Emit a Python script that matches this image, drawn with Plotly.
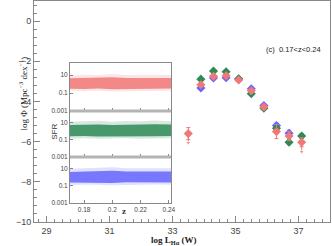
import plotly.graph_objects as go

# ---------------- main LF data ----------------
logL = [33.5, 33.9, 34.3, 34.7, 35.1, 35.5, 35.9, 36.3, 36.7, 37.1]
phi_red = [-5.6, -3.17, -2.75, -2.72, -2.93, -3.47, -4.27, -5.5, -5.72, -6.03]
err_red = [0.3, 0.06, 0.06, 0.06, 0.06, 0.06, 0.08, 0.35, 0.22, 0.22]
phi_green = [None, -2.89, -2.49, -2.52, -2.87, -3.62, -4.34, -5.33, -6.03, -5.72]
err_green = [0, 0.06, 0.06, 0.06, 0.06, 0.06, 0.08, 0.1, 0.12, 0.12]
phi_blue = [None, -3.33, -2.83, -2.82, -2.9, -3.37, -4.2, -5.2, -5.58, None]
err_blue = [0, 0.06, 0.06, 0.06, 0.06, 0.06, 0.08, 0.12, 0.15, 0]
# upper-limit arrows (red series)
lim_L = [33.5, 37.1]
lim_top = [-5.6, -6.03]
lim_bot = [-6.05, -6.5]

# ---------------- inset envelopes (SFR vs z) ----------------
z_grid = [0.17, 0.18, 0.19, 0.20, 0.21, 0.22, 0.23, 0.2415]
red_out_lo = [0.18, 0.16, 0.18, 0.15, 0.18, 0.16, 0.17, 0.18]
red_out_hi = [9, 11, 10, 13, 10, 11, 11, 10]
red_in_lo = [0.3, 0.28, 0.32, 0.27, 0.3, 0.28, 0.3, 0.32]
red_in_hi = [4.5, 5.0, 4.8, 5.5, 4.8, 5.0, 5.2, 4.8]
green_out_lo = [0.14, 0.15, 0.13, 0.14, 0.15, 0.13, 0.14, 0.15]
green_out_hi = [12, 13, 15, 12, 14, 13, 16, 13]
green_in_lo = [0.25, 0.27, 0.24, 0.25, 0.26, 0.24, 0.25, 0.27]
green_in_hi = [5.0, 5.6, 5.6, 5.0, 5.6, 5.2, 6.0, 5.5]
blue_out_lo = [0.12, 0.13, 0.12, 0.11, 0.13, 0.12, 0.13, 0.12]
blue_out_hi = [9, 10, 11, 13, 10, 11, 10, 10]
blue_in_lo = [0.22, 0.24, 0.21, 0.2, 0.24, 0.22, 0.24, 0.22]
blue_in_hi = [3.8, 4.2, 4.6, 5.0, 4.3, 4.4, 4.2, 4.3]

RED = "#f07878"
GREEN = "#2e8b57"
BLUE = "#6464ff"

fig = go.Figure()

def series(y, e, color):
    fig.add_trace(go.Scatter(
        x=logL, y=y, mode="markers",
        marker=dict(symbol="diamond", size=7, color=color, line=dict(width=0)),
        error_y=dict(type="data", array=e, color=color, thickness=1, width=2),
        showlegend=False, xaxis="x", yaxis="y"))

series(phi_blue, err_blue, BLUE)
series(phi_green, err_green, GREEN)
series(phi_red, err_red, RED)

for lx, lt, lb in zip(lim_L, lim_top, lim_bot):
    fig.add_trace(go.Scatter(x=[lx, lx], y=[lt, lb], mode="lines+markers",
                             line=dict(color=RED, width=1),
                             marker=dict(symbol=["circle", "triangle-down"], size=[0, 5], color=RED),
                             showlegend=False, xaxis="x", yaxis="y"))

def band(z, lo, hi, color, ax, op, sol):
    kw = dict(fillcolor=color) if sol is None else dict(
        fillcolor="rgba(0,0,0,0)",
        fillpattern=dict(shape=".", fgcolor=color, bgcolor="rgba(0,0,0,0)", size=2, solidity=sol))
    fig.add_trace(go.Scatter(
        x=list(z) + list(z)[::-1], y=list(hi) + list(lo)[::-1],
        fill="toself", mode="lines", line=dict(width=0),
        opacity=op, showlegend=False, hoverinfo="skip",
        xaxis="x" + ax, yaxis="y" + ax, **kw))

band(z_grid, red_out_lo, red_out_hi, RED, "2", 0.9, 0.5)
band(z_grid, red_in_lo, red_in_hi, RED, "2", 0.85, None)
band(z_grid, green_out_lo, green_out_hi, GREEN, "3", 0.9, 0.5)
band(z_grid, green_in_lo, green_in_hi, GREEN, "3", 0.85, None)
band(z_grid, blue_out_lo, blue_out_hi, BLUE, "4", 0.9, 0.5)
band(z_grid, blue_in_lo, blue_in_hi, BLUE, "4", 0.85, None)

AX = "#888888"
tickfont = dict(family="Liberation Sans", size=9, color="#444")
small = dict(family="Liberation Sans", size=6.5, color="#444")

layout = dict(
    width=332, height=246,
    margin=dict(l=34, r=2, t=1, b=24),
    paper_bgcolor="white", plot_bgcolor="white",
    xaxis=dict(domain=[0, 1], range=[28.6, 38.0], tickmode="linear", tick0=29, dtick=2,
               ticks="inside", ticklen=6, tickcolor=AX, showline=True, linecolor=AX, mirror=True,
               showgrid=False, zeroline=False, tickfont=tickfont, automargin=False,
               minor=dict(ticks="inside", ticklen=3, dtick=0.25, tick0=29, tickcolor=AX, showgrid=False)),
    yaxis=dict(domain=[0, 1], range=[-10, 1], tickmode="linear", tick0=0, dtick=2,
               ticks="inside", ticklen=6, tickcolor=AX, showline=True, linecolor=AX, mirror=True,
               showgrid=False, zeroline=False, tickfont=tickfont, automargin=False,
               minor=dict(ticks="inside", ticklen=3, dtick=0.4, tick0=0, tickcolor=AX, showgrid=False)),
)

xdom = [0.1216, 0.4628]
ydoms = {"2": [0.502, 0.718], "3": [0.294, 0.502], "4": [0.087, 0.294]}
for k, yd in ydoms.items():
    layout["xaxis" + k] = dict(domain=xdom, range=[0.17, 0.2415], anchor="y" + k,
                               tickvals=[0.18, 0.2, 0.22, 0.24], ticktext=["0.18", "0.2", "0.22", "0.24"],
                               showticklabels=(k == "4"), ticks="inside", ticklen=3, tickcolor=AX,
                               showline=True, linecolor=AX, mirror=True, showgrid=False, zeroline=False,
                               tickfont=small, automargin=False)
    layout["yaxis" + k] = dict(domain=yd, type="log", range=[-3, 2.3], anchor="x" + k,
                               tickvals=[0.001, 0.1, 10], ticktext=["0.001", "0.1", "10"],
                               ticks="inside", ticklen=3, tickcolor=AX,
                               showline=True, linecolor=AX, mirror=True, showgrid=False, zeroline=False,
                               tickfont=small, automargin=False)
fig.update_layout(**layout)

# separators between inset panels
for yp in [0.502, 0.294]:
    fig.add_shape(type="rect", xref="paper", yref="paper", x0=xdom[0], x1=xdom[1],
                  y0=yp - 0.007, y1=yp + 0.007, fillcolor="#b4b4b4", line=dict(width=0))

fig.add_annotation(text="SFR", xref="paper", yref="paper", x=0.047, y=0.41, textangle=-90,
                   showarrow=False, font=dict(family="Liberation Sans", size=8, color="#333"))
fig.add_annotation(text="<b>z</b>", xref="paper", yref="paper", x=0.29, y=0.018,
                   showarrow=False, font=dict(family="Liberation Serif", size=9, color="#333"))
fig.add_annotation(text="log Φ (Mpc<sup>−3</sup> dex<sup>−1</sup>)", xref="paper", yref="paper",
                   x=-0.065, y=0.58, textangle=-90, showarrow=False,
                   font=dict(family="Liberation Serif", size=9, color="#222"))
fig.add_annotation(text="<b>log L<sub>Hα</sub> (W)</b>", xref="paper", yref="paper",
                   x=0.47, y=-0.082, yanchor="middle", showarrow=False,
                   font=dict(family="Liberation Serif", size=9, color="#222"))
fig.add_annotation(text="(c)  0.17<z<0.24", xref="paper", yref="paper", x=0.975, y=0.81,
                   xanchor="right", showarrow=False,
                   font=dict(family="Liberation Sans", size=7.5, color="#222"))

fig.write_html("out.html", config={"displayModeBar": False},
               post_script="document.body.style.margin='0';document.body.style.overflow='hidden';")
